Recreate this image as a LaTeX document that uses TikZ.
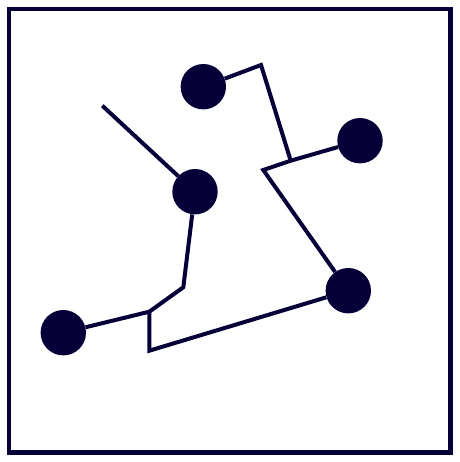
\documentclass[tikz,border=0pt]{standalone}
\usepackage{xcolor}
\usepackage{tikz}
\usetikzlibrary{positioning}
\usetikzlibrary{calc}
\definecolor{navy}{RGB}{5,0,56}
\tikzstyle{dot}=[circle,fill=navy,minimum size=45.4pt,inner sep=0pt]
\tikzstyle{wire} = [draw,navy,line width=4pt]
\tikzstyle{frame} = [draw,navy,line width=4.3pt]

\begin{document}
\begin{tikzpicture}[x=1pt,y=-1pt]

 \useasboundingbox (0,0) rectangle (459,462);

 %frame
 \path[frame] (9,9) rectangle (450.5,452.5);

 %nodes
   \foreach \x/\y/\name in {203.3/86.7/topdot, 360/140.7/rightdot, 195/191.7/middot, 348.3/290.7/lowdot, 63.3/332.7/leftdot}
          \node[dot] (\name) at (\x, \y) {};

 %bends
   \foreach \x/\y/\name in {261/65/b1, 290.7/160.7/j1, 263.3/170/b2, 102.3/105.7/free, 183.3/287.3/b3, 149.3/311.7/j2, 149.3/350.7/b4}
          \coordinate (\name) at (\x, \y);

 %connectors
  \path[wire] (topdot) -- (b1) -- (j1);
  \path[wire] (rightdot) -- (j1) -- (b2) -- (lowdot);
  \path[wire] (free) -- (middot);
  \path[wire] (middot) -- (b3) -- (j2) -- (leftdot);
  \path[wire] (j2) -- (b4) -- (lowdot);

\end{tikzpicture}
\end{document}
